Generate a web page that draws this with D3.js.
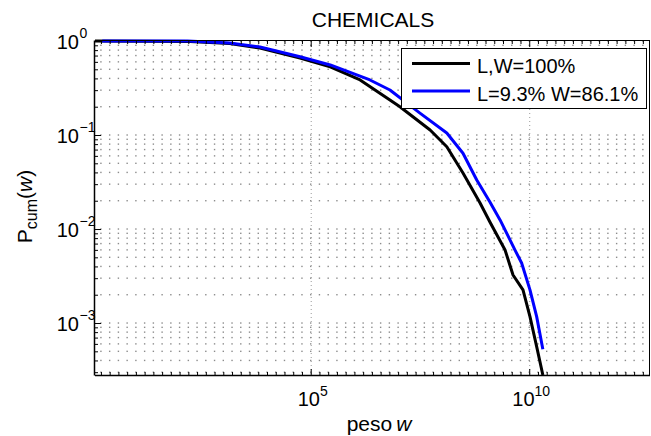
<!DOCTYPE html>
<html><head><meta charset="utf-8">
<script src="https://cdn.jsdelivr.net/npm/d3@7"></script>
<style>body{margin:0;background:#fff}svg{display:block}text{font-family:"Liberation Sans",Arial,sans-serif;fill:#000}</style>
</head><body><svg id="c" width="651" height="436"></svg>
<script>
// ---- data ----
const title = "CHEMICALS";
const xDomain = [1.16, 5.8e12];
const yDomain = [2.8e-4, 1];
const xTickValues = [1e5, 1e10];
const yTickValues = [1e-3, 1e-2, 1e-1, 1];
const xMinorStepDecades = 0.2;
const seriesNames = ["L,W=100%", "L=9.3% W=86.1%"];
const seriesColors = ["#000000", "#0000ff"];
const wBlack = [1.16, 174, 1.4e3, 6.9e3, 5.7e4, 2.8e5, 1.35e6, 6.5e6, 1.1e7, 5.4e7, 1.3e8, 3.05e8, 7.5e8, 1.26e9, 2.8e9, 4.26e9, 7.2e9, 1.04e10, 1.48e10, 2.05e10];
const pBlack = [1, 0.988, 0.94, 0.842, 0.66, 0.53, 0.385, 0.236, 0.2, 0.113, 0.075, 0.0394, 0.0189, 0.01186, 0.00598, 0.00324, 0.00225, 0.00117, 5.6e-4, 2.8e-4];
const wBlue = [1.7, 150, 1.4e3, 6.9e3, 5.7e4, 2.8e5, 2.27e6, 6.5e6, 3.16e7, 1.3e8, 3.05e8, 6.3e8, 1.26e9, 2.15e9, 4.7e9, 6.7e9, 1.04e10, 1.48e10, 2.05e10];
const pBlue = [1, 1, 0.95, 0.863, 0.68, 0.556, 0.385, 0.301, 0.171, 0.105, 0.064, 0.0332, 0.0194, 0.0125, 0.006, 0.00435, 0.00225, 0.00117, 5.25e-4];

// ---- layout ----
const L = 95, R = 650, T = 41, B = 375;
const svg = d3.select("#c");
const x = d3.scaleLog().domain(xDomain).range([L, R]);
const y = d3.scaleLog().domain(yDomain).range([B, T]);

// minor tick positions
const lx0 = Math.log10(xDomain[0]), lx1 = Math.log10(xDomain[1]);
const xMinor = [];
for (let k = Math.ceil(lx0 / xMinorStepDecades); k * xMinorStepDecades <= lx1; k++) xMinor.push(Math.pow(10, k * xMinorStepDecades));
const yAll = [];
for (let e = -4; e <= 0; e++) for (let m = 1; m <= 9; m++) { const v = m * Math.pow(10, e); if (v >= yDomain[0] && v <= yDomain[1] * 1.0001) yAll.push(v); }

// grid dots
const g = svg.append("g");
yAll.forEach(v => {
  g.selectAll(null).data(xMinor).enter().append("rect")
    .attr("x", d => x(d) - 0.7).attr("y", y(v) - 0.7).attr("width", 1.4).attr("height", 1.4)
    .attr("fill", "#8c8c8c");
});
g.selectAll(null).data(xTickValues).enter().append("line")
  .attr("x1", d => x(d) + 0.5).attr("x2", d => x(d) + 0.5).attr("y1", T).attr("y2", B)
  .attr("stroke", "#999").attr("stroke-width", 1).attr("stroke-dasharray", "1 3");

// curves
svg.append("clipPath").attr("id", "pc").append("rect").attr("x", L).attr("y", T - 2).attr("width", R - L).attr("height", B - T + 2);
const line = d3.line().x(d => x(d[0])).y(d => y(d[1]));
const series = [d3.zip(wBlack, pBlack), d3.zip(wBlue, pBlue)];
svg.append("g").attr("clip-path", "url(#pc)").selectAll("path").data(series).enter().append("path")
  .attr("d", line).attr("fill", "none").attr("stroke", (d, i) => seriesColors[i])
  .attr("stroke-width", 3).attr("stroke-linejoin", "round");

// axes box
const ax = svg.append("g").attr("stroke", "#000").attr("stroke-width", 1);
ax.append("line").attr("x1", L).attr("x2", R).attr("y1", B + 0.5).attr("y2", B + 0.5).attr("stroke-width", 1.5);
ax.append("line").attr("x1", L).attr("x2", R).attr("y1", T - 0.5).attr("y2", T - 0.5);
ax.append("line").attr("x1", L - 0.5).attr("x2", L - 0.5).attr("y1", T - 0.5).attr("y2", B + 0.5).attr("stroke-width", 1.5);
ax.append("line").attr("x1", R - 0.5).attr("x2", R - 0.5).attr("y1", T - 0.5).attr("y2", B + 0.5);
// x ticks
const isMajX = d => xTickValues.some(t => Math.abs(Math.log10(t) - Math.log10(d)) < 1e-6);
ax.selectAll(null).data(xMinor).enter().append("line")
  .attr("x1", d => x(d) + 0.5).attr("x2", d => x(d) + 0.5)
  .attr("y1", B).attr("y2", d => B - (isMajX(d) ? 6 : 3));
ax.selectAll(null).data(xMinor).enter().append("line")
  .attr("x1", d => x(d) + 0.5).attr("x2", d => x(d) + 0.5)
  .attr("y1", T).attr("y2", d => T + (isMajX(d) ? 6 : 3));
// y ticks
const isMajY = d => yTickValues.some(t => Math.abs(t - d) / t < 1e-6);
ax.selectAll(null).data(yAll).enter().append("line")
  .attr("y1", d => y(d) + 0.5).attr("y2", d => y(d) + 0.5)
  .attr("x1", L).attr("x2", d => L + (isMajY(d) ? 6 : 3));

// tick labels
const expStr = v => { const e = Math.round(Math.log10(v)); return (e < 0 ? "\u2212" : "") + Math.abs(e); };
const xl = svg.append("g");
xTickValues.forEach(v => {
  const t = xl.append("text").attr("x", x(v) + 2).attr("y", 406).attr("text-anchor", "middle").attr("font-size", 20);
  t.append("tspan").text("10");
  t.append("tspan").attr("dy", -10).attr("font-size", 14).text(expStr(v));
});
yTickValues.forEach(v => {
  xl.append("text").attr("x", 79).attr("y", y(v) + 7.5).attr("text-anchor", "end").attr("font-size", 20).text("10");
  xl.append("text").attr("x", 79.5).attr("y", y(v) - 3).attr("font-size", 14).text(expStr(v));
});

// title & axis labels
svg.append("text").attr("x", 373).attr("y", 26.5).attr("text-anchor", "middle").attr("font-size", 21).text(title);
const xlab = svg.append("text").attr("x", 379).attr("y", 431).attr("text-anchor", "middle").attr("font-size", 21);
xlab.append("tspan").text("peso");
xlab.append("tspan").attr("dx", 4).attr("font-style", "italic").text("w");
const ylab = svg.append("text").attr("transform", "translate(31.5,206.5) rotate(-90)").attr("text-anchor", "middle").attr("font-size", 21);
ylab.append("tspan").text("P");
ylab.append("tspan").attr("dy", 5).attr("font-size", 16).text("cum");
ylab.append("tspan").attr("dy", -5).text("(");
ylab.append("tspan").attr("font-style", "italic").text("w");
ylab.append("tspan").text(")");

// legend
const lg = svg.append("g");
lg.append("rect").attr("x", 401.5).attr("y", 48.5).attr("width", 245).attr("height", 60).attr("fill", "#fff").attr("stroke", "#000").attr("stroke-width", 1);
const ly = [63.5, 91];
lg.selectAll(null).data(seriesNames).enter().append("line")
  .attr("x1", 412).attr("x2", 470).attr("y1", (d, i) => ly[i]).attr("y2", (d, i) => ly[i])
  .attr("stroke", (d, i) => seriesColors[i]).attr("stroke-width", 3);
lg.selectAll(null).data(seriesNames).enter().append("text")
  .attr("x", 477).attr("y", (d, i) => ly[i] + 9.5).attr("font-size", 20).text(d => d);
</script></body></html>
